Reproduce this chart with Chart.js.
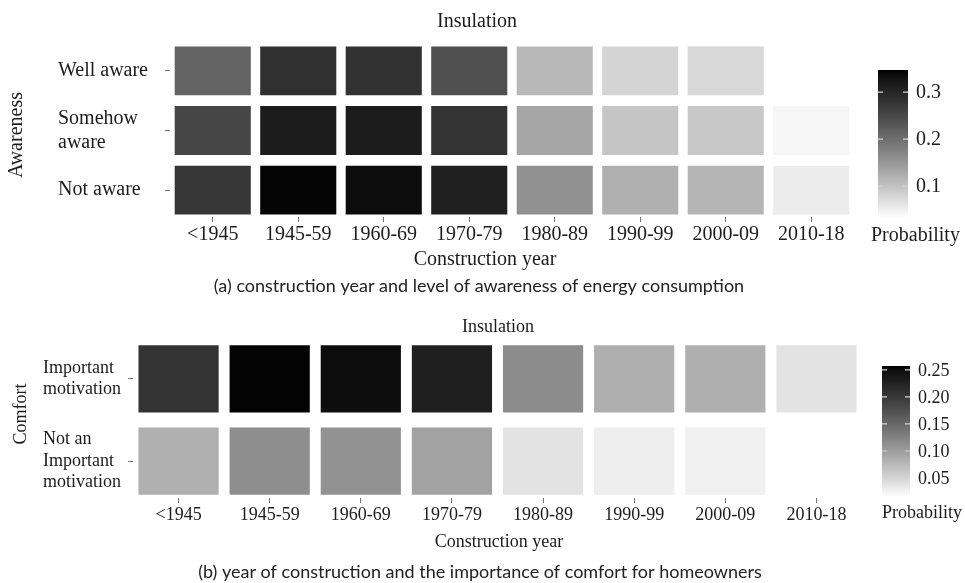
<!DOCTYPE html>
<html>
<head>
<meta charset="utf-8">
<title>Insulation probability heatmaps</title>
<script src="https://cdn.jsdelivr.net/npm/chart.js@4.4.1/dist/chart.umd.min.js"></script>
<style>
  body { margin: 0; background: #fff; }
  #wrap { position: relative; width: 965px; height: 583px; }
  canvas { position: absolute; left: 0; }
</style>
</head>
<body>
<div id="wrap">
  <canvas id="chartA" width="965" height="300" style="top:0"></canvas>
  <canvas id="chartB" width="965" height="283" style="top:300px"></canvas>
</div>
<script>
// categories
const years = ["<1945", "1945-59", "1960-69", "1970-79", "1980-89", "1990-99", "2000-09", "2010-18"];

// (a) awareness rows, top to bottom
const awarenessLabels = [["Well aware"], ["Somehow", "aware"], ["Not aware"]];
const wellAware    = [0.215, 0.285, 0.282, 0.240, 0.111, 0.079, 0.075, null];
const somehowAware = [0.253, 0.315, 0.315, 0.280, 0.133, 0.097, 0.093, 0.042];
const notAware     = [0.276, 0.343, 0.337, 0.309, 0.157, 0.121, 0.115, 0.053];
const awarenessRange = [0.032, 0.347];
const awarenessTicks = [0.1, 0.2, 0.3];

// (b) comfort rows, top to bottom
const comfortLabels = [["Important", "motivation"], ["Not an", "Important", "motivation"]];
const importantMotivation    = [0.206, 0.255, 0.248, 0.228, 0.116, 0.085, 0.084, 0.039];
const notImportantMotivation = [0.083, 0.114, 0.110, 0.096, 0.039, 0.029, 0.028, null];
const comfortRange = [0.015, 0.257];
const comfortTicks = [0.05, 0.10, 0.15, 0.20, 0.25];

const SERIF = "'Liberation Serif', 'DejaVu Serif', serif";
const SANS = "Lato, 'Open Sans', sans-serif";
const TEXT = "#1c1c1c";

// white -> black, linear in Lab lightness (like ggplot's gradient)
function grayFor(v, range) {
  let t = (v - range[0]) / (range[1] - range[0]);
  t = Math.min(1, Math.max(0, t));
  const L = 100 * (1 - t);
  const Y = L > 8 ? Math.pow((L + 16) / 116, 3) : L / 903.3;
  const s = Y <= 0.0031308 ? 12.92 * Y : 1.055 * Math.pow(Y, 1 / 2.4) - 0.055;
  const g = Math.round(255 * Math.min(1, Math.max(0, s)));
  return `rgb(${g},${g},${g})`;
}

function drawHeatmap(id, cfg) {
  const datasets = cfg.rows.map((values, r) => ({
    data: values.map((v) => (v == null ? null : [r - cfg.half, r + cfg.half])),
    backgroundColor: values.map((v) => (v == null ? "rgba(0,0,0,0)" : grayFor(v, cfg.range))),
    grouped: false,
    categoryPercentage: cfg.catPct,
    barPercentage: 1,
    borderWidth: 0,
  }));

  // titles, caption and colour bar
  const extras = {
    id: "extras",
    afterDraw(chart) {
      const ctx = chart.ctx;
      ctx.save();
      ctx.fillStyle = TEXT;
      ctx.textBaseline = "alphabetic";
      ctx.textAlign = "center";
      ctx.font = `${cfg.fontSize}px ${SERIF}`;
      ctx.fillText("Insulation", cfg.title[0], cfg.title[1]);
      ctx.fillText("Construction year", cfg.xTitle[0], cfg.xTitle[1]);

      ctx.font = `18px ${SANS}`;
      ctx.fillStyle = "#222";
      ctx.fillText(cfg.caption, cfg.captionPos[0], cfg.captionPos[1]);

      ctx.save();
      ctx.fillStyle = TEXT;
      ctx.font = `${cfg.fontSize}px ${SERIF}`;
      ctx.translate(cfg.yTitle[0], cfg.yTitle[1]);
      ctx.rotate(-Math.PI / 2);
      ctx.textBaseline = "middle";
      ctx.fillText(cfg.yTitleText, 0, 0);
      ctx.restore();

      // colour bar
      const bar = cfg.bar;
      const grad = ctx.createLinearGradient(0, bar.y + bar.h, 0, bar.y);
      const steps = 40;
      for (let i = 0; i <= steps; i++) {
        const v = cfg.range[0] + ((cfg.range[1] - cfg.range[0]) * i) / steps;
        grad.addColorStop(i / steps, grayFor(v, cfg.range));
      }
      ctx.fillStyle = grad;
      ctx.fillRect(bar.x, bar.y, bar.w, bar.h);

      ctx.strokeStyle = "#d4d4d4";
      ctx.lineWidth = 1.2;
      ctx.font = `${cfg.fontSize}px ${SERIF}`;
      ctx.textAlign = "left";
      ctx.textBaseline = "middle";
      cfg.ticks.forEach((t) => {
        const y = bar.y + bar.h - ((t - cfg.range[0]) / (cfg.range[1] - cfg.range[0])) * bar.h;
        ctx.beginPath();
        ctx.moveTo(bar.x, y);
        ctx.lineTo(bar.x + 5, y);
        ctx.moveTo(bar.x + bar.w - 5, y);
        ctx.lineTo(bar.x + bar.w, y);
        ctx.stroke();
        ctx.fillStyle = TEXT;
        ctx.fillText(t.toFixed(cfg.decimals), bar.x + bar.w + 8, y + 1);
      });
      ctx.textBaseline = "alphabetic";
      ctx.fillText("Probability", cfg.probPos[0], cfg.probPos[1]);
      ctx.restore();
    },
  };

  const tickGrid = {
    display: true,
    drawOnChartArea: false,
    drawTicks: true,
    tickLength: 5,
    color: "#777",
    offset: false,
  };

  new Chart(document.getElementById(id), {
    type: "bar",
    data: { labels: years, datasets: datasets },
    options: {
      responsive: false,
      animation: false,
      layout: { padding: cfg.padding },
      plugins: { legend: { display: false }, tooltip: { enabled: false } },
      scales: {
        x: {
          type: "category",
          offset: true,
          grid: tickGrid,
          border: { display: false },
          ticks: {
            font: { family: SERIF, size: cfg.fontSize },
            color: TEXT,
            maxRotation: 0,
            autoSkip: false,
            padding: 1,
          },
          afterFit: (scale) => { scale.height = cfg.xHeight; },
        },
        y: {
          type: "linear",
          reverse: true,
          min: -0.45,
          max: cfg.rows.length - 0.55,
          grid: tickGrid,
          border: { display: false },
          afterBuildTicks: (scale) => {
            scale.ticks = cfg.rows.map((_, i) => ({ value: i }));
          },
          ticks: {
            font: { family: SERIF, size: cfg.fontSize, lineHeight: 1.2 },
            color: TEXT,
            crossAlign: "far",
            callback: (value) => cfg.rowLabels[value],
          },
          afterFit: (scale) => { scale.width = cfg.yWidth; },
        },
      },
    },
    plugins: [extras],
  });
}

drawHeatmap("chartA", {
  rows: [wellAware, somehowAware, notAware],
  rowLabels: awarenessLabels,
  range: awarenessRange,
  ticks: awarenessTicks,
  decimals: 1,
  half: 0.41,
  catPct: 0.89,
  fontSize: 20,
  padding: { left: 58, right: 111, top: 44, bottom: 43 },
  yWidth: 112,
  xHeight: 40,
  title: [477, 27],
  xTitle: [485, 265],
  caption: "(a) construction year and level of awareness of energy consumption",
  captionPos: [479, 292],
  yTitleText: "Awareness",
  yTitle: [17, 135],
  bar: { x: 878, y: 70, w: 30, h: 148 },
  probPos: [871, 241],
});

drawHeatmap("chartB", {
  rows: [importantMotivation, notImportantMotivation],
  rowLabels: comfortLabels,
  range: comfortRange,
  ticks: comfortTicks,
  decimals: 2,
  half: 0.41,
  catPct: 0.88,
  fontSize: 18,
  padding: { left: 43, right: 103, top: 42, bottom: 45 },
  yWidth: 90,
  xHeight: 40,
  title: [498, 32],
  xTitle: [499, 247],
  caption: "(b) year of construction and the importance of comfort for homeowners",
  captionPos: [480, 278],
  yTitleText: "Comfort",
  yTitle: [21, 114],
  bar: { x: 882, y: 66, w: 28, h: 131 },
  probPos: [882, 218],
});
</script>
</body>
</html>
